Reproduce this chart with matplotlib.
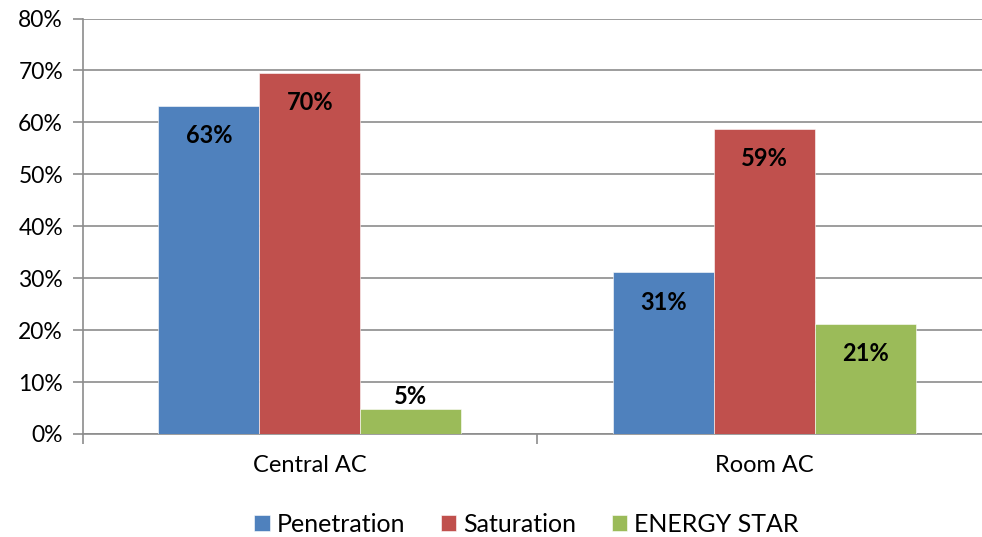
import matplotlib
matplotlib.use("Agg")
import matplotlib.pyplot as plt
import numpy as np
from matplotlib.ticker import FuncFormatter, MultipleLocator

categories = ["Central AC", "Room AC"]
series_names = ["Penetration", "Saturation", "ENERGY STAR"]
penetration = [0.631, 0.311]
saturation = [0.695, 0.588]
energy_star = [0.049, 0.212]
colors = ["#4F81BD", "#C0504D", "#9BBB59"]

plt.rcParams["font.family"] = ["Lato", "DejaVu Sans"]

W, H = 982, 537
fig = plt.figure(figsize=(W / 100, H / 100), dpi=100)
# plot area runs slightly past the right edge of the canvas
left, right, top, bottom = 82.5, 992, 18.5, 434
ax = fig.add_axes([left / W, 1 - bottom / H, (right - left) / W, (bottom - top) / H])

x = np.arange(len(categories))
width = 1 / 4.5
all_series = [penetration, saturation, energy_star]
for i, (vals, name, col) in enumerate(zip(all_series, series_names, colors)):
    pos = x + (i - 1) * width
    bars = ax.bar(pos, vals, width, color=col, label=name, zorder=3,
                  edgecolor="white", linewidth=0.4)
    for b, v in zip(bars, vals):
        cx = b.get_x() + b.get_width() / 2
        y = v - 0.057 if v > 0.1 else v + 0.024
        ax.text(cx, y, f"{v*100:.0f}%", ha="center", va="center",
                fontsize=17, fontweight="bold", color="black", zorder=4)

ax.set_xlim(-0.5, 1.5)
ax.set_ylim(0, 0.8)
ax.yaxis.set_major_locator(MultipleLocator(0.1))
ax.yaxis.set_major_formatter(FuncFormatter(lambda v, _: f"{v*100:.0f}%"))
ax.grid(axis="y", color="#8C8C8C", linewidth=1.2, zorder=0)
ax.set_axisbelow(True)

for s in ["top", "right"]:
    ax.spines[s].set_visible(False)
for s in ["left", "bottom"]:
    ax.spines[s].set_color("#8C8C8C")
    ax.spines[s].set_linewidth(1.2)

ax.set_xticks(x)
ax.set_xticklabels(categories)
ax.tick_params(axis="x", length=0, pad=15, labelsize=17)
ax.tick_params(axis="y", length=7, width=1.2, color="#8C8C8C", labelsize=16.5, pad=7)
# category boundary ticks on the horizontal axis
ax.set_xticks([-0.5, 0.5, 1.5], minor=True)
ax.tick_params(axis="x", which="minor", length=7, width=1.2, color="#8C8C8C")

leg = fig.legend(loc="center", ncol=3, frameon=False,
                 fontsize=18, handlelength=0.62, handleheight=0.62,
                 handletextpad=0.3, columnspacing=1.4,
                 bbox_to_anchor=(526.5 / W, 1 - 524 / H),
                 bbox_transform=fig.transFigure)

fig.savefig("out.png", dpi=100)
